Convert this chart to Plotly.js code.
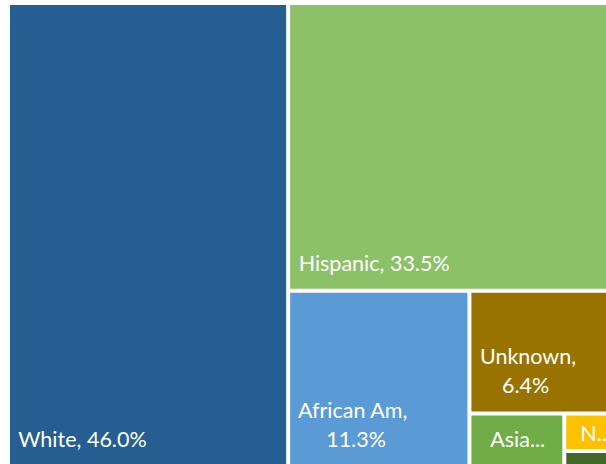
<!DOCTYPE html>
<html>
<head>
<meta charset="utf-8">
<script src="https://cdn.plot.ly/plotly-3.0.1.min.js"></script>
<style>
html,body{margin:0;padding:0;overflow:hidden;background:#fff;width:606px;height:464px;}
#wrap{width:606px;height:464px;overflow:hidden;position:relative;}
#chart{width:620px;height:470px;}
</style>
</head>
<body>
<div id="wrap"><div id="chart"></div></div>
<script>
// ---- data ----
var categories = ["White", "Hispanic", "African Am", "Unknown", "Asian", "Native Am", "Other"];
var shares = [46.0, 33.5, 11.3, 6.4, 1.8, 0.7, 0.3];
var shownLabels = ["White, 46.0%", "Hispanic, 33.5%", "African Am,\n11.3%", "Unknown,\n6.4%", "Asia...", "N..", ""];
var tileColors = ["#255E91", "#8CC168", "#5B9BD5", "#997300", "#70AD47", "#FFC000", "#43682B"];

// ---- label styling ----
var FONT_FAMILY = "Lato, 'Open Sans', sans-serif";
var LABEL_SIZE = 21.5;            // visible label size
var BASE_SIZE = 11;               // text element size (controls line step)
var labelIndentPx = [7, 7, 7, 7, 15, 10, 0];
var bottomGap = [true, true, true, true, true, false, false];

var NB = "\u00a0";
var ctx = document.createElement("canvas").getContext("2d");
ctx.font = LABEL_SIZE + "px Lato";
var nbspW = ctx.measureText(NB).width || LABEL_SIZE * 0.2;
function buildLabel(s, i) {
  if (!s) return "";
  var lines = s.split("\n");
  var ws = lines.map(function (l) { return ctx.measureText(l).width; });
  var maxW = Math.max.apply(null, ws);
  var indent = Math.round(labelIndentPx[i] / nbspW);
  var out = lines.map(function (l, k) {
    var n = indent + Math.round((maxW - ws[k]) / 2 / nbspW);
    return '<span style="font-size:' + LABEL_SIZE + 'px">' + NB.repeat(n) + l + '</span>';
  }).join("<br><br>");
  if (bottomGap[i]) out += '<br><span style="font-size:4px">' + NB + '</span>';
  return out;
}
var texts = shownLabels.map(buildLabel);

var trace = {
  type: "treemap",
  labels: categories,
  parents: categories.map(function () { return ""; }),
  values: shares,
  text: texts,
  textinfo: "text",
  textposition: "bottom left",
  textfont: {family: FONT_FAMILY, size: BASE_SIZE, color: "#FFFFFF"},
  marker: {colors: tileColors, line: {width: 0}, pad: {t: 0, l: 0, r: 0, b: 0}},
  tiling: {packing: "squarify", squarifyratio: 1, pad: 4},
  pathbar: {visible: false},
  hoverinfo: "none",
  sort: true
};

var layout = {
  width: 620,
  height: 470,
  margin: {l: 10, r: 5, t: 5, b: 5},
  paper_bgcolor: "#FFFFFF",
  showlegend: false
};

Plotly.newPlot("chart", [trace], layout, {displayModeBar: false, staticPlot: true});
</script>
</body>
</html>
